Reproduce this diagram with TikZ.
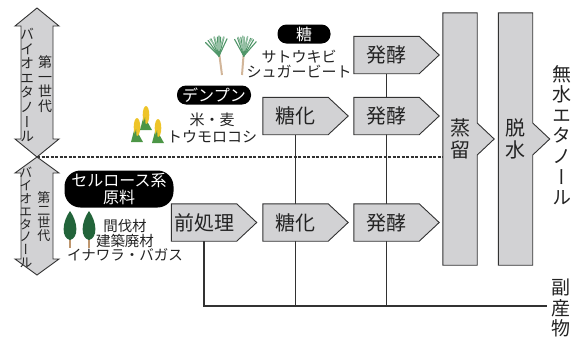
\documentclass[tikz,border=0pt]{standalone}
\usepackage{fontspec}
\setmainfont{Noto Sans CJK JP}
\newfontfamily\tatefont[RawFeature=+vert]{Noto Sans CJK JP}
\usetikzlibrary{backgrounds}

\definecolor{boxgray}{RGB}{210,210,212}
\definecolor{linegray}{RGB}{50,50,50}
\definecolor{inkgray}{RGB}{35,35,35}
\definecolor{treegreen}{RGB}{34,100,58}
\definecolor{leafgreen}{RGB}{76,150,70}
\definecolor{caneleaf}{RGB}{80,150,105}
\definecolor{cornyellow}{RGB}{238,196,40}
\definecolor{trunk}{RGB}{190,150,110}

\tikzset{
proc/.style={minimum width=65pt, minimum height=37pt, inner sep=0pt,
  font=\fontsize{20}{20}\selectfont, text=inkgray},
column/.style={minimum width=34pt, minimum height=252pt, inner sep=0pt,
  align=center, font=\tatefont\fontsize{20}{22}\selectfont, text=inkgray},
outline/.style={draw=linegray, fill=boxgray, line width=0.9pt, line join=miter},
link/.style={draw=linegray, line width=1.4pt},
genline/.style={draw=linegray, line width=1.2pt, dash pattern=on 3pt off 1.5pt},
pill/.style={fill=black, text=white, rounded corners=9pt, inner sep=0pt,
  align=center, font=\fontsize{16}{17}\selectfont},
feed/.style={align=center, inner sep=0pt, text=inkgray},
tate/.style={align=center, inner sep=0pt, text=inkgray,
  font=\tatefont\fontsize{19}{20.6}\selectfont},
gentext/.style={align=center, inner sep=0pt, text=inkgray}
}

\begin{document}
\begin{tikzpicture}[x=1pt,y=-1pt]
\useasboundingbox (0,0) rectangle (579,338);

% process steps
\node[proc] (pre) at (204,222.5) {前処理};
\node[proc] (sacc2) at (295.5,116) {糖化};
\node[proc] (sacc3) at (295.5,222.5) {糖化};
\node[proc] (ferm1) at (386.5,55) {発酵};
\node[proc] (ferm2) at (386.5,116) {発酵};
\node[proc] (ferm3) at (386.5,222.5) {発酵};
\node[column] (dist) at (460,139) {蒸\\留};
\node[column] (dehy) at (515.5,139) {脱\\水};
\node[tate] (anhyd) at (562,135) {無\\水\\エ\\タ\\ノ\\ー\\ル};
\node[tate] (byprod) at (561,308) {副\\産\\物};
\coordinate (byp) at (547,306);
\coordinate (split) at (37,157);

% generation arrows
\draw[outline] (37,8) -- (59,26) -- (53,26) -- (53,139) -- (59,139) -- (split)
  -- (15,139) -- (21,139) -- (21,26) -- (15,26) -- cycle;
\draw[outline] (split) -- (59,173) -- (53,173) -- (53,259) -- (59,259) -- (37,275)
  -- (15,259) -- (21,259) -- (21,173) -- (15,173) -- cycle;
\node[gentext, font=\tatefont\fontsize{14}{14.6}\selectfont] (gen1a) at (27,85)
  {バ\\イ\\オ\\エ\\タ\\ノ\\ー\\ル};
\node[gentext, font=\tatefont\fontsize{14}{14.6}\selectfont] (gen1b) at (45,84)
  {第\\一\\世\\代};
\node[gentext, font=\tatefont\fontsize{13}{12.8}\selectfont] (gen2a) at (26,217.5)
  {バ\\イ\\オ\\エ\\タ\\ノ\\ー\\ル};
\node[gentext, font=\tatefont\fontsize{13}{12.8}\selectfont] (gen2b) at (44,216.5)
  {第\\二\\世\\代};

\begin{scope}[on background layer]
  \draw[link] (ferm1.south) -- (ferm1.south |- byp);
  \draw[link] (sacc2.south) -- (sacc2.south |- byp);
  \draw[link] (pre.south) |- (byp);
  \draw[genline] (split) -- (split -| dist.west);
  \foreach \n in {pre,sacc2,sacc3,ferm1,ferm2,ferm3}
    \draw[outline] (\n.north west) -- (\n.north east) -- ([xshift=20pt]\n.east)
      -- (\n.south east) -- (\n.south west) -- cycle;
  \foreach \n in {dist,dehy}
    \draw[outline] (\n.north west) -- (\n.north east) -- ([yshift=16pt]\n.east)
      -- ([xshift=17pt]\n.east) -- ([yshift=-16pt]\n.east)
      -- (\n.south east) -- (\n.south west) -- cycle;
\end{scope}

% feedstocks
\node[pill, minimum width=53pt, minimum height=19pt] (sugar) at (304,34) {糖};
\node[feed, font=\fontsize{15}{15}\selectfont] (sugarsrc) at (299,64)
  {サトウキビ\\シュガービート};
\node[pill, minimum width=74pt, minimum height=19pt] (starch) at (214,95) {デンプン};
\node[feed, font=\fontsize{15}{16.5}\selectfont] (starchsrc) at (212,128)
  {米・麦\\トウモロコシ};
\node[pill, minimum width=109pt, minimum height=37pt, rounded corners=16pt] (cell)
  at (119,189) {セルロース系\\原料};
\node[feed, font=\fontsize{14.5}{14.5}\selectfont] (cellsrc) at (125,240.5)
  {間伐材\\建築廃材\\イナワラ・バガス};

% trees
\foreach \cx in {70,89} {
  \draw[trunk, line width=1.3pt] (\cx,236) -- (\cx,248);
  \fill[treegreen] (\cx,211) .. controls (\cx+8,222) and (\cx+9,238) .. (\cx,240)
    .. controls (\cx-9,238) and (\cx-8,222) .. (\cx,211);
}
% corn
\foreach \cx/\cy in {137/127,146/115,158/128} {
  \fill[leafgreen] (\cx-6,\cy+15) -- (\cx-1,\cy-4) -- (\cx+1,\cy+6) -- (\cx+6,\cy+15) -- cycle;
  \fill[cornyellow] (\cx,\cy) ellipse (3.3 and 9);
  \fill[leafgreen] (\cx-4,\cy+14) -- (\cx-1,\cy+2) -- (\cx,\cy+14) -- cycle;
}
% sugarcane
\foreach \sx/\lean in {222/-10,242/6} {
  \draw[trunk!70, line width=2pt] (\sx,75) -- (\sx+\lean*0.3,52);
  \foreach \a in {-35,-25,...,35}
    \draw[caneleaf, line width=1.1pt, line cap=round] (\sx+\lean*0.3,56) -- ++(-90+\a+\lean:19);
  \foreach \a in {-30,-10,10,30}
    \draw[caneleaf!60, line width=1.4pt, line cap=round] (\sx+\lean*0.3,50) -- ++(-90+\a+\lean:14);
}
\end{tikzpicture}
\end{document}
